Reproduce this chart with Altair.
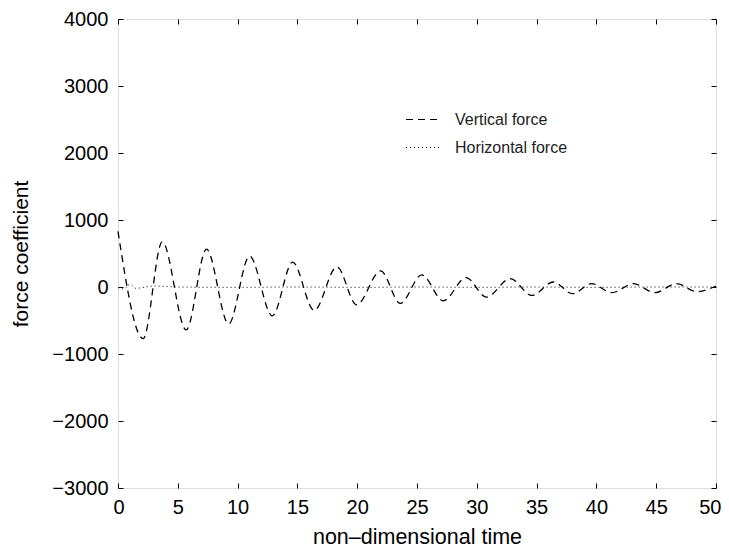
import altair as alt
import pandas as pd

# Vertical force: extrema (time, force coefficient)
t_vert = [0, 2.1, 3.7, 5.7, 7.4, 9.25, 11.0, 12.9, 14.6, 16.4, 18.3, 19.95, 21.96, 23.6,
          25.4, 27.2, 29.1, 30.8, 32.8, 34.6, 36.4, 38.0, 39.6, 41.3, 43.1, 44.9, 46.7, 48.4, 50]
f_vert = [830, -770, 675, -640, 565, -550, 460, -430, 370, -350, 300, -265, 240, -245,
          180, -205, 140, -150, 125, -125, 75, -100, 50, -85, 50, -85, 50, -70, 15]

# Horizontal force: stays near zero
t_horiz = [0, 0.5, 1.0, 1.5, 2.0, 3.0, 5, 10, 15, 20, 25, 30, 35, 40, 45, 50]
f_horiz = [-10, -30, 40, -20, -10, 15, 0, -5, 0, -5, 0, -5, 0, -5, 0, 0]

series_names = ["Vertical force", "Horizontal force"]
x_ticks = [0, 5, 10, 15, 20, 25, 30, 35, 40, 45, 50]
y_ticks = [-3000, -2000, -1000, 0, 1000, 2000, 3000, 4000]

W, H = 598, 469

df_v = pd.DataFrame({"t": t_vert, "f": f_vert, "series": series_names[0]})
df_h = pd.DataFrame({"t": t_horiz, "f": f_horiz, "series": series_names[1]})

xscale = alt.Scale(domain=[0, 50], nice=False, zero=False)
yscale = alt.Scale(domain=[-3000, 4000], nice=False, zero=False)
dash_scale = alt.Scale(domain=series_names, range=[[7, 5], [1, 3]])

dash_enc = alt.StrokeDash(
    "series:N", scale=dash_scale, title=None,
    legend=alt.Legend(orient="none", legendX=287, legendY=82, symbolType="stroke",
                      symbolSize=1225, symbolStrokeWidth=1.2, symbolStrokeColor="black",
                      labelFontSize=16, labelOffset=13, rowPadding=1, padding=0,
                      labelColor="#222", labelFont="Liberation Sans"))

vert = alt.Chart(df_v).mark_line(color="black", strokeWidth=1.3, interpolate="monotone").encode(
    x=alt.X("t:Q", scale=xscale,
            axis=alt.Axis(orient="bottom", values=x_ticks, format="d", ticks=False, domain=False,
                          grid=False, labelFontSize=20, labelPadding=9, labelFlush=True,
                          labelFlushOffset=5,
                          title="non–dimensional time", titleFontSize=21.5,
                          titleFontWeight="normal", titlePadding=9)),
    y=alt.Y("f:Q", scale=yscale,
            axis=alt.Axis(orient="left", values=y_ticks, format="d", ticks=False, domain=False,
                          grid=False, labelFontSize=20, labelPadding=10, labelFlush=False,
                          title="force coefficient", titleFontSize=21,
                          titleFontWeight="normal", titlePadding=20)),
    strokeDash=dash_enc,
)

horiz = alt.Chart(df_h).mark_line(color="black", strokeWidth=1.0, interpolate="monotone").encode(
    x=alt.X("t:Q", scale=xscale,
            axis=alt.Axis(orient="top", offset=-H, values=x_ticks, labels=False, ticks=True,
                          tickSize=5, tickColor="black", domain=False, grid=False, title=None)),
    y=alt.Y("f:Q", scale=yscale,
            axis=alt.Axis(orient="right", offset=-W, values=y_ticks, labels=False, ticks=True,
                          tickSize=5, tickColor="black", domain=False, grid=False, title=None)),
    strokeDash=dash_enc,
)

ticks_other = alt.Chart(df_v).mark_point(opacity=0).encode(
    x=alt.X("t:Q", scale=xscale,
            axis=alt.Axis(orient="bottom", offset=-H, values=x_ticks, labels=False, ticks=True,
                          tickSize=5, tickColor="black", domain=False, grid=False, title=None)),
    y=alt.Y("f:Q", scale=yscale,
            axis=alt.Axis(orient="left", offset=-W, values=y_ticks, labels=False, ticks=True,
                          tickSize=5, tickColor="black", domain=False, grid=False, title=None)),
)

chart = alt.layer(vert, horiz, ticks_other).resolve_axis(
    x="independent", y="independent"
).properties(
    width=W, height=H,
    autosize=alt.AutoSizeParams(type="none"),
    padding={"left": 110, "top": 11, "right": 5, "bottom": 60},
).configure_view(
    stroke="black", strokeWidth=1.2
).configure_axis(
    labelFont="Liberation Sans", titleFont="Liberation Sans",
    labelColor="#222", titleColor="#222"
).configure(background="white")

chart.save("out.html", embed_options={"renderer": "svg", "actions": False})
